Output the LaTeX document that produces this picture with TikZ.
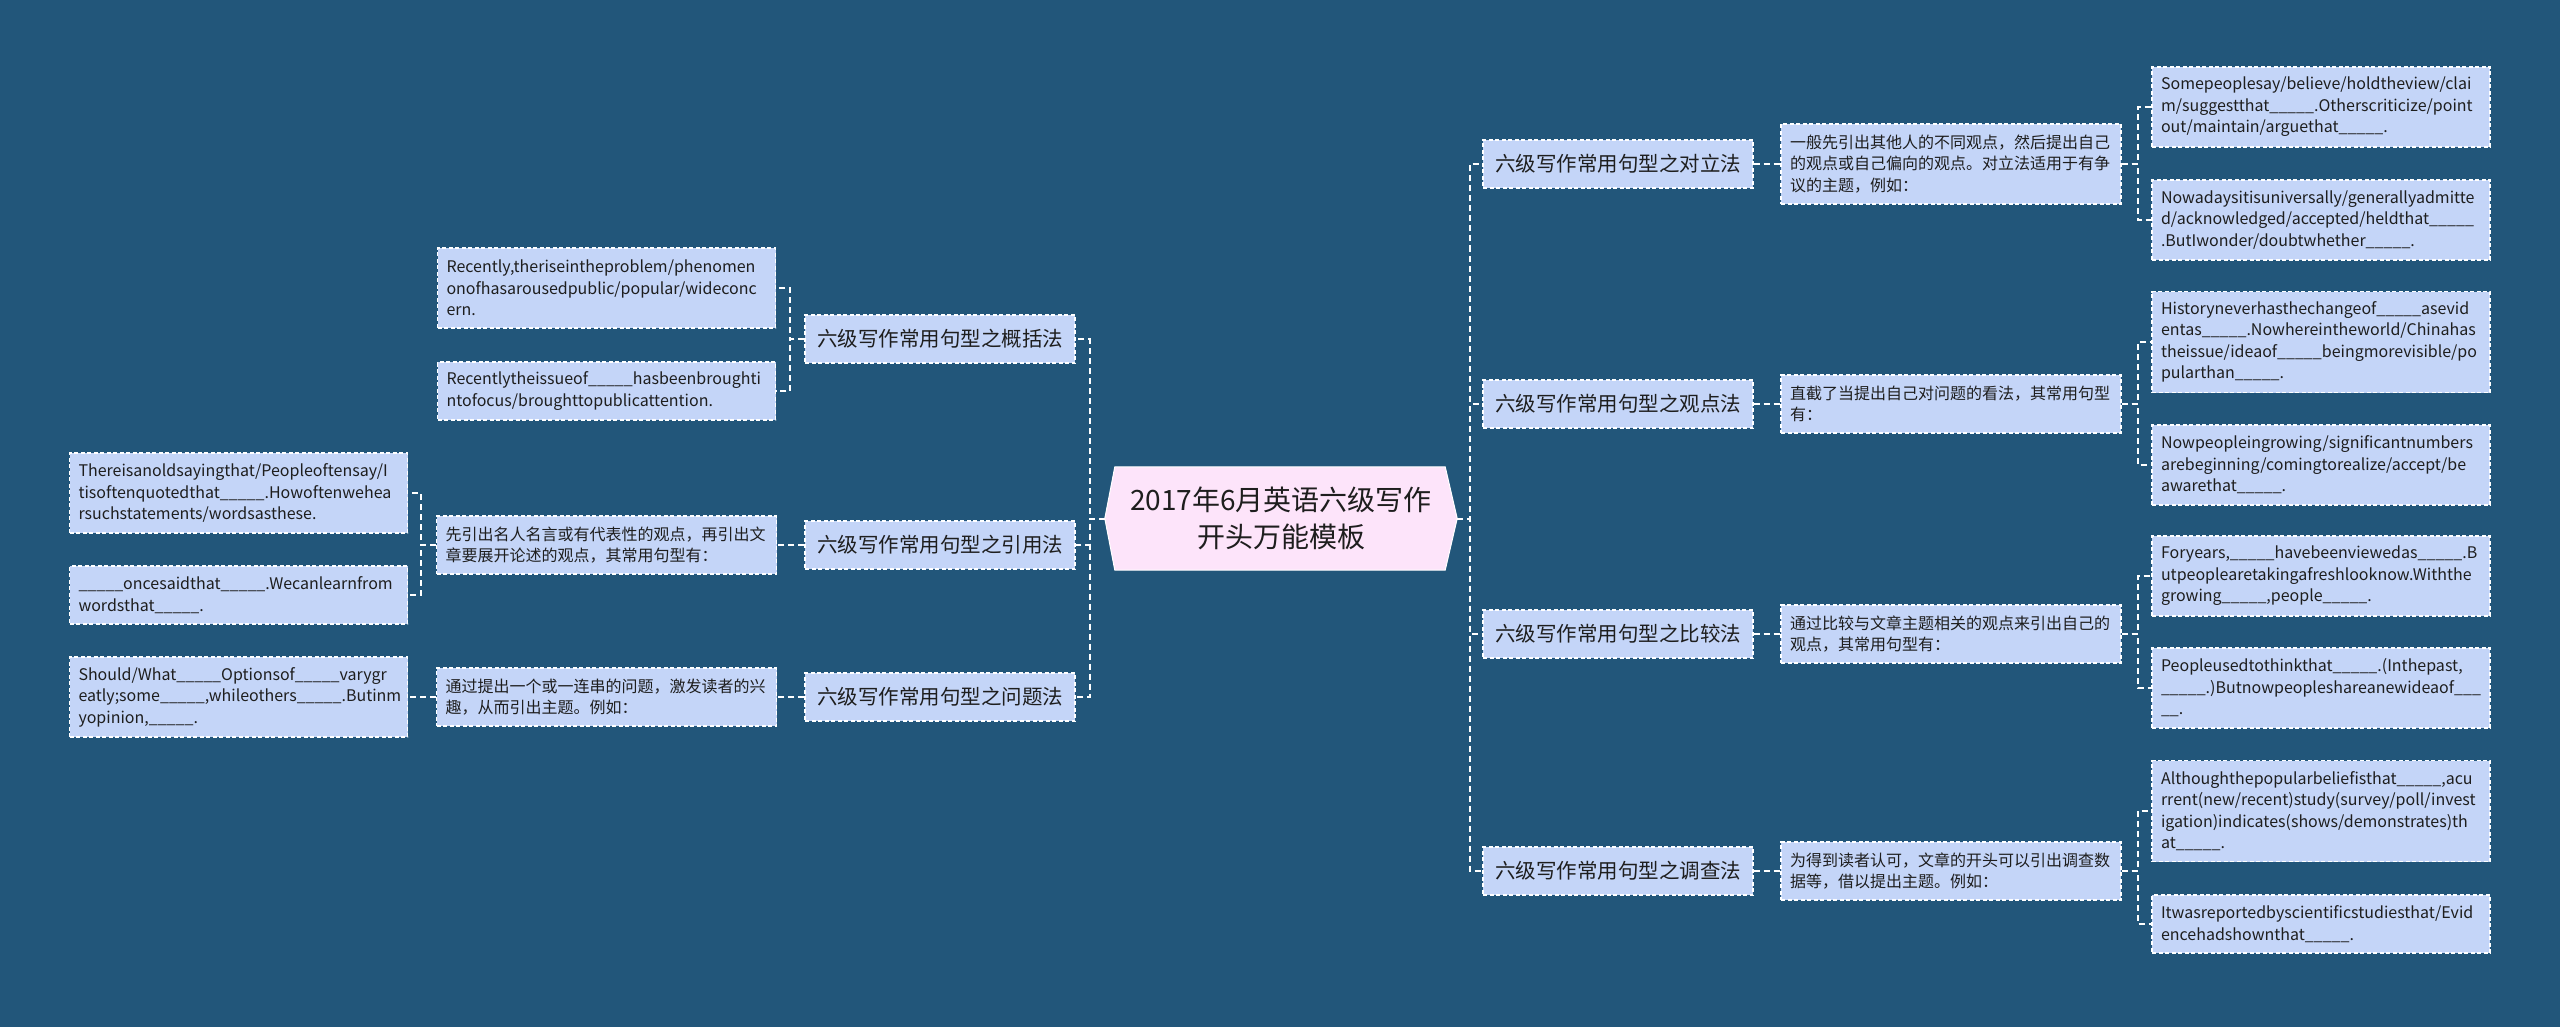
\documentclass[tikz,border=0pt]{standalone}
\usepackage{fontspec}
\setmainfont{Noto Sans CJK SC}
\pgfdeclarelayer{back}
\pgfsetlayers{back,main}
\definecolor{bgblue}{HTML}{22567A}
\definecolor{boxblue}{HTML}{C4D5F8}
\definecolor{rootpink}{HTML}{FDE4FA}
\definecolor{inkdark}{HTML}{1E1E1E}
\newcommand{\blank}{\_\_\_\_\_}
\tikzset{
	wire/.style={draw=white, line width=2pt, dash pattern=on 6pt off 4pt},
	dashbox/.style={draw=white, fill=boxblue, line width=1.3pt, dash pattern=on 4pt off 2.5pt, text=inkdark, inner ysep=0pt},
	rootbox/.style={minimum width=352pt, minimum height=103pt, align=center, text=inkdark, font=\fontsize{28}{37.5}\selectfont},
	branch/.style={dashbox, minimum width=270pt, minimum height=48pt, inner xsep=6pt, font=\fontsize{20.5}{24}\selectfont},
	desc/.style={dashbox, text width=322pt, inner xsep=9pt, align=left, font=\fontsize{16}{21.5}\selectfont},
	leaf/.style={dashbox, text width=320pt, inner xsep=9pt, align=left, font=\fontsize{16}{21.5}\selectfont},
	lines2/.style={minimum height=58pt},
	lines3/.style={minimum height=80pt},
	lines4/.style={minimum height=101pt}
}
\begin{document}
\begin{tikzpicture}[x=1pt, y=-1pt]
	\useasboundingbox (0,0) rectangle (2560,1027);
	
	\node[rootbox] (root) at (1281,518.5) {2017年6月英语六级写作\\开头万能模板};
	
	\node[branch] (r1) at (1618,164) {六级写作常用句型之对立法};
	\node[branch] (r2) at (1618,404) {六级写作常用句型之观点法};
	\node[branch] (r3) at (1618,634) {六级写作常用句型之比较法};
	\node[branch] (r4) at (1618,871) {六级写作常用句型之调查法};
	
	\node[branch] (l1) at (940,339) {六级写作常用句型之概括法};
	\node[branch] (l2) at (940,545) {六级写作常用句型之引用法};
	\node[branch] (l3) at (940,697) {六级写作常用句型之问题法};
	
	\node[desc, lines3] (r1d) at (1951,164) {一般先引出其他人的不同观点，然后提出自己\\的观点或自己偏向的观点。对立法适用于有争\\议的主题，例如：};
	\node[desc, lines2] (r2d) at (1951,404) {直截了当提出自己对问题的看法，其常用句型\\有：};
	\node[desc, lines2] (r3d) at (1951,634) {通过比较与文章主题相关的观点来引出自己的\\观点，其常用句型有：};
	\node[desc, lines2] (r4d) at (1951,871) {为得到读者认可，文章的开头可以引出调查数\\据等，借以提出主题。例如：};
	\node[desc, lines2] (l2d) at (606.5,545) {先引出名人名言或有代表性的观点，再引出文\\章要展开论述的观点，其常用句型有：};
	\node[desc, lines2] (l3d) at (606.5,697) {通过提出一个或一连串的问题，激发读者的兴\\趣，从而引出主题。例如：};
	
	\node[leaf, lines3] (r1a) at (2321,107) {Somepeoplesay/believe/holdtheview/clai\\m/suggestthat\blank.Otherscriticize/point\\out/maintain/arguethat\blank.};
	\node[leaf, lines3] (r1b) at (2321,220) {Nowadaysitisuniversally/generallyadmitte\\d/acknowledged/accepted/heldthat\blank\\.ButIwonder/doubtwhether\blank.};
	\node[leaf, lines4] (r2a) at (2321,342) {Historyneverhasthechangeof\blank asevid\\entas\blank.Nowhereintheworld/Chinahas\\theissue/ideaof\blank beingmorevisible/po\\pularthan\blank.};
	\node[leaf, lines3] (r2b) at (2321,465) {Nowpeopleingrowing/significantnumbers\\arebeginning/comingtorealize/accept/be\\awarethat\blank.};
	\node[leaf, lines3] (r3a) at (2321,576) {Foryears,\blank havebeenviewedas\blank.B\\utpeoplearetakingafreshlooknow.Withthe\\growing\blank,people\blank.};
	\node[leaf, lines3] (r3b) at (2321,688) {Peopleusedtothinkthat\blank.(Inthepast,\\\blank.)Butnowpeopleshareanewideaof\_\_\_\\\_\_.};
	\node[leaf, lines4] (r4a) at (2321,811) {Althoughthepopularbeliefisthat\blank,acu\\rrent(new/recent)study(survey/poll/invest\\igation)indicates(shows/demonstrates)th\\at\blank.};
	\node[leaf, lines2] (r4b) at (2321,924) {Itwasreportedbyscientificstudiesthat/Evid\\encehadshownthat\blank.};
	
	\node[leaf, lines3] (l1a) at (606.5,288) {Recently,theriseintheproblem/phenomen\\onofhasarousedpublic/popular/wideconc\\ern.};
	\node[leaf, lines2] (l1b) at (606.5,391) {Recentlytheissueof\blank hasbeenbroughti\\ntofocus/broughttopublicattention.};
	\node[leaf, lines3] (l2a) at (238.5,493) {Thereisanoldsayingthat/Peopleoftensay/I\\tisoftenquotedthat\blank.Howoftenwehea\\rsuchstatements/wordsasthese.};
	\node[leaf, lines2] (l2b) at (238.5,595) {\blank oncesaidthat\blank.Wecanlearnfrom\\wordsthat\blank.};
	\node[leaf, lines3] (l3a) at (238.5,697) {Should/What\blank Optionsof\blank varygr\\eatly;some\blank,whileothers\blank.Butinm\\yopinion,\blank.};
	
	\begin{pgfonlayer}{back}
		\fill[bgblue] (0,0) rectangle (2560,1027);
		\filldraw[fill=rootpink, draw=white, line width=1pt] ([xshift=10pt]root.north west) -- ([xshift=-12pt]root.north east) -- (root.east) -- ([xshift=-12pt]root.south east) -- ([xshift=10pt]root.south west) -- (root.west) -- cycle;
		
		\draw[wire] (root.east) -- ++(13,0) |- (r1.west);
		\draw[wire] (root.east) -- ++(13,0) |- (r2.west);
		\draw[wire] (root.east) -- ++(13,0) |- (r3.west);
		\draw[wire] (root.east) -- ++(13,0) |- (r4.west);
		\draw[wire] (root.west) -- ++(-15,0) |- (l1.east);
		\draw[wire] (root.west) -- ++(-15,0) |- (l2.east);
		\draw[wire] (root.west) -- ++(-15,0) |- (l3.east);
		
		\draw[wire] (r1.east) -- (r1d.west);
		\draw[wire] (r2.east) -- (r2d.west);
		\draw[wire] (r3.east) -- (r3d.west);
		\draw[wire] (r4.east) -- (r4d.west);
		\draw[wire] (l2.west) -- (l2d.east);
		\draw[wire] (l3.west) -- (l3d.east);
		
		\draw[wire] (r1d.east) -- ++(16,0) |- (r1a.west);
		\draw[wire] (r1d.east) -- ++(16,0) |- (r1b.west);
		\draw[wire] (r2d.east) -- ++(16,0) |- (r2a.west);
		\draw[wire] (r2d.east) -- ++(16,0) |- (r2b.west);
		\draw[wire] (r3d.east) -- ++(16,0) |- (r3a.west);
		\draw[wire] (r3d.east) -- ++(16,0) |- (r3b.west);
		\draw[wire] (r4d.east) -- ++(16,0) |- (r4a.west);
		\draw[wire] (r4d.east) -- ++(16,0) |- (r4b.west);
		
		\draw[wire] (l1.west) -- ++(-14,0) |- (l1a.east);
		\draw[wire] (l1.west) -- ++(-14,0) |- (l1b.east);
		\draw[wire] (l2d.west) -- ++(-15,0) |- (l2a.east);
		\draw[wire] (l2d.west) -- ++(-15,0) |- (l2b.east);
		\draw[wire] (l3d.west) -- (l3a.east);
	\end{pgfonlayer}
\end{tikzpicture}
\end{document}
